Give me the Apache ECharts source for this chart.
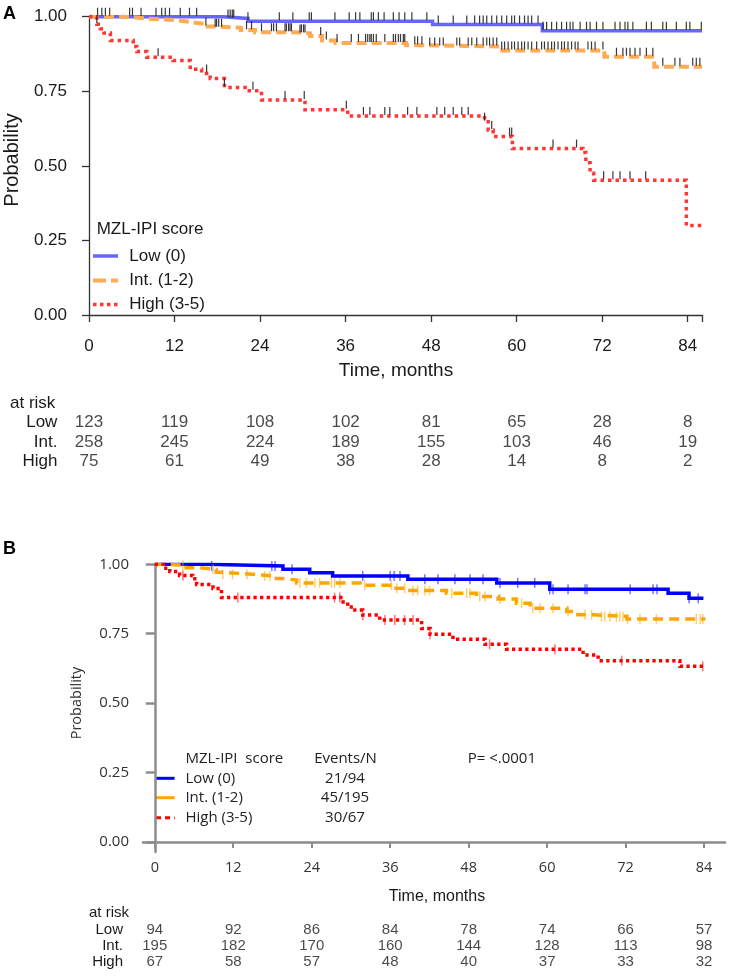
<!DOCTYPE html>
<html><head><meta charset="utf-8">
<script src="https://cdn.jsdelivr.net/npm/echarts@6/dist/echarts.min.js"></script>
<style>html,body{margin:0;padding:0;background:#fff}#c{width:738px;height:980px}</style>
</head><body><div id="c"></div>
<script>
// ---------- tick labels / categories ----------
const months = [0, 12, 24, 36, 48, 60, 72, 84];
const riskGroups = ['Low', 'Int.', 'High'];
const legendNames = ['Low (0)', 'Int. (1-2)', 'High (3-5)'];
const eventsN = ['21/94', '45/195', '30/67'];
const probTicks = [0, 0.25, 0.5, 0.75, 1];

// ---------- Panel A: Kaplan-Meier steps (time, survival) ----------
const aLowT = [0, 18.8, 22.3, 48.2, 63.6, 86];
const aLowS = [1, 0.994, 0.985, 0.974, 0.953, 0.953];
const aIntT = [0, 5, 6.5, 8, 12.3, 14, 15.8, 17.5, 21.3, 23.3, 29, 31, 32.7, 34.6, 44.5, 47.5, 57.6, 72.3, 79.3, 86];
const aIntS = [1, 0.997, 0.994, 0.988, 0.983, 0.977, 0.967, 0.963, 0.955, 0.948, 0.944, 0.935, 0.92, 0.912, 0.904, 0.9, 0.887, 0.866, 0.832, 0.832];
const aHighT = [0, 1.1, 1.6, 2.1, 3, 6.2, 6.7, 8.1, 11.8, 14.2, 15.8, 17, 19, 21.9, 24.2, 30.3, 36.3, 55.5, 56, 56.7, 59.4, 69.3, 69.7, 70.3, 70.8, 83.8, 86];
const aHighS = [1, 0.975, 0.96, 0.945, 0.92, 0.9, 0.883, 0.864, 0.853, 0.824, 0.81, 0.793, 0.763, 0.752, 0.721, 0.688, 0.667, 0.648, 0.62, 0.598, 0.558, 0.545, 0.51, 0.475, 0.452, 0.30, 0.30];
// censor times, panel A
const aLowC = [1.2, 1.8, 2.3, 2.9, 5.7, 6.1, 7.3, 9.4, 10.2, 10.7, 11.3, 12.8, 14.1, 15.1, 19.5, 19.8, 20.1, 20.3, 22.3, 26.7, 28.6, 30.9, 31.2, 34.5, 36.5, 37.4, 38.0, 39.6, 39.9, 40.6, 41.4, 42.7, 43.5, 44.3, 45.3, 47.4, 49.0, 51.1, 53.0, 54.1, 54.8, 55.3, 55.8, 56.5, 57.2, 57.9, 58.6, 59.3, 59.7, 60.4, 61.1, 61.6, 62.1, 63.0, 63.7, 64.2, 64.9, 65.6, 66.3, 67.0, 67.5, 67.9, 68.9, 69.8, 70.3, 71.2, 72.1, 73.8, 74.5, 75.2, 75.6, 76.3, 78.2, 78.9, 80.5, 81.0, 82.4, 83.8, 84.3, 85.9];
const aIntC = [16.4, 17.7, 17.9, 18.2, 18.6, 22.1, 22.8, 24.2, 25.6, 25.9, 26.3, 27.5, 27.7, 28.0, 28.2, 28.4, 29.6, 29.8, 30.1, 30.3, 32.5, 33.3, 34.8, 36.8, 37.8, 38.8, 39.1, 39.4, 39.6, 39.9, 40.3, 41.5, 42.7, 43.0, 43.4, 43.7, 44.1, 44.3, 45.7, 46.1, 46.7, 47.8, 48.5, 49.2, 49.7, 51.6, 52.0, 53.2, 53.7, 54.4, 55.3, 55.8, 56.2, 56.7, 57.2, 57.9, 58.3, 58.8, 59.3, 59.7, 60.2, 60.7, 61.1, 61.6, 62.1, 62.8, 63.5, 63.9, 64.4, 64.9, 65.3, 65.8, 66.3, 66.7, 67.2, 67.7, 68.2, 68.6, 70.0, 70.5, 71.0, 72.1, 74.0, 74.9, 75.4, 75.9, 76.6, 77.3, 78.2, 79.1, 80.5, 82.2, 82.9, 84.7, 85.2, 85.7];
const aHighC = [1.1, 9.7, 16.5, 19, 23, 27.5, 30.2, 36.1, 38.5, 39.4, 41.5, 42.2, 44.7, 46, 48.8, 49.9, 51.1, 52.3, 53.2, 55.5, 56.5, 59.0, 59.3, 65.1, 68.4, 72.2, 73.5, 74.5, 75.9, 78.1];
// at risk, panel A
const aRiskLow = [123, 119, 108, 102, 81, 65, 28, 8];
const aRiskInt = [258, 245, 224, 189, 155, 103, 46, 19];
const aRiskHigh = [75, 61, 49, 38, 28, 14, 8, 2];

// ---------- Panel B ----------
const bLowT = [0, 7.9, 19.6, 23.7, 27.2, 38.7, 52.3, 60.4, 78.5, 81.7, 83.9];
const bLowS = [1, 0.994, 0.982, 0.970, 0.958, 0.946, 0.933, 0.910, 0.896, 0.878, 0.878];
const bIntT = [0, 1.8, 4.8, 6.9, 9.4, 10.4, 15, 18, 19.6, 21.7, 31.4, 36.4, 38.5, 44.6, 49.2, 52.5, 55.3, 57.4, 63, 64.7, 67, 72.2, 84.2];
const bIntS = [1, 0.997, 0.988, 0.982, 0.971, 0.964, 0.958, 0.949, 0.943, 0.933, 0.925, 0.914, 0.906, 0.896, 0.884, 0.875, 0.86, 0.842, 0.83, 0.818, 0.812, 0.803, 0.803];
const bHighT = [0, 1.3, 2.3, 3.8, 5.8, 6.4, 8.9, 10.2, 28.8, 29.5, 30.3, 31.8, 34.4, 40.8, 42.1, 45.6, 50.5, 53.8, 65.5, 67.8, 80.3, 84.2];
const bHighS = [1, 0.986, 0.974, 0.96, 0.948, 0.927, 0.913, 0.88, 0.864, 0.846, 0.835, 0.817, 0.799, 0.769, 0.748, 0.73, 0.712, 0.694, 0.673, 0.653, 0.633, 0.633];
const bLowC = [8.7, 17.9, 18.4, 21.0, 31.8, 36.0, 36.6, 37.5, 41.3, 43.3, 45.9, 48.2, 50.2, 52.8, 55.5, 58.1, 60.4, 60.9, 63.2, 65.8, 66.1, 72.7, 76.2, 76.8, 81.7, 83.1];
const bIntC = [4.3, 8.9, 10.4, 11.9, 14.1, 16.8, 17.6, 22.2, 23.2, 24.5, 25.2, 27.0, 27.5, 28.3, 32.1, 36.2, 37.0, 38.2, 39.5, 40.2, 41.3, 42.0, 45.4, 47.7, 48.2, 49.7, 50.5, 52.8, 56.1, 57.8, 58.9, 60.9, 63.2, 65.8, 66.8, 68.3, 68.8, 69.6, 70.6, 71.1, 71.6, 72.3, 74.2, 76.7, 82.8, 83.4, 83.8];
const bHighC = [4.3, 12.7, 27.5, 28.3, 31.8, 35.2, 36.7, 38.2, 39.5, 42.1, 51.2, 61.2, 71.4, 83.8];
const bRiskLow = [94, 92, 86, 84, 78, 74, 66, 57];
const bRiskInt = [195, 182, 170, 160, 144, 128, 113, 98];
const bRiskHigh = [67, 58, 57, 48, 40, 37, 33, 32];

// ---------- helpers ----------
const FA = 'Liberation Sans, Arial, sans-serif';
const FB = 'Open Sans, DejaVu Sans, sans-serif';
function stepAt(ts, ss, t) { let s = ss[0]; for (let i = 0; i < ts.length; i++) { if (ts[i] <= t) s = ss[i]; } return s; }
function kmLine(ts, ss, ax, color, width, dash, z) {
  return { type: 'line', xAxisIndex: ax, yAxisIndex: ax, step: 'end', symbol: 'none', showSymbol: false, silent: true,
    data: ts.map((t, i) => [t, ss[i]]), lineStyle: { color: color, width: width, type: dash, cap: 'butt', join: 'miter' }, z: z };
}
function censors(ts, ss, cs, ax, color, size, offset, opacity, z) {
  return { type: 'scatter', xAxisIndex: ax, yAxisIndex: ax, symbol: 'rect', symbolSize: size, symbolOffset: offset, silent: true,
    itemStyle: { color: color, opacity: opacity }, data: cs.map(t => [t, stepAt(ts, ss, t)]), z: z };
}
function riskSeries(ax, rows, fontSize) {
  const data = [];
  rows.forEach((vals, g) => vals.forEach((v, i) => data.push([months[i], riskGroups[g], v])));
  return { type: 'scatter', xAxisIndex: ax, yAxisIndex: ax, symbolSize: 1, silent: true, itemStyle: { color: 'rgba(0,0,0,0)' },
    label: { show: true, position: 'inside', formatter: p => String(p.value[2]), fontSize: fontSize, fontFamily: FA, color: '#1a1a1a' }, data: data };
}
function txt(x, y, s, size, family, opts) {
  opts = opts || {};
  return { type: 'text', x: x, y: y, rotation: opts.rot || 0, silent: true,
    style: { text: s, fontSize: size, fontFamily: family, fontWeight: opts.weight || 'normal', fill: opts.color || '#1a1a1a',
      align: opts.align || 'left', verticalAlign: 'middle', textAlign: opts.align || 'left', textVerticalAlign: 'middle' } };
}
function seg(x1, y1, x2, y2, color, w, dash) {
  return { type: 'line', silent: true, shape: { x1: x1, y1: y1, x2: x2, y2: y2 }, style: { stroke: color, lineWidth: w, lineDash: dash || null, lineCap: 'butt' } };
}

const colA = ['#6666ff', '#ffaa55', '#ff3636'];
const colB = ['#0000ff', '#ffa500', '#ff0000'];
const dashA = ['solid', [10, 5], [3.5, 4]];
const dashB = ['solid', [10, 6], [3.3, 3.3]];

const option = {
  animation: false,
  backgroundColor: '#fff',
  grid: [
    { left: 89, top: 16.7, width: 613, height: 298.3 },
    { left: 143, top: 564.3, width: 582, height: 287.7 },
    { left: 89, top: 413, width: 613, height: 58.5 },
    { left: 143, top: 922, width: 582, height: 47.7 }
  ],
  xAxis: [
    { gridIndex: 0, type: 'value', min: 0, max: 86, offset: 13, splitLine: { show: false },
      axisLine: { show: true, lineStyle: { color: '#333', width: 1.3 } },
      axisTick: { show: true, length: 7, customValues: months.concat([86]), lineStyle: { color: '#333', width: 1.3 } },
      axisLabel: { customValues: months, fontSize: 17, fontFamily: FA, color: '#1a1a1a', margin: 10 } },
    { gridIndex: 1, type: 'value', min: -1.8, max: 87.2, splitLine: { show: false },
      axisLine: { show: true, lineStyle: { color: '#8c8c8c', width: 2.5 } },
      axisTick: { show: true, length: 6, customValues: months, lineStyle: { color: '#8c8c8c', width: 2 } },
      axisLabel: { customValues: months, fontSize: 14.5, fontFamily: FB, color: '#333', margin: 8 } },
    { gridIndex: 2, type: 'value', min: 0, max: 86, show: false },
    { gridIndex: 3, type: 'value', min: -1.8, max: 87.2, show: false }
  ],
  yAxis: [
    { gridIndex: 0, type: 'value', min: 0, max: 1, interval: 0.25, offset: 12, splitLine: { show: false },
      axisLine: { show: true, lineStyle: { color: '#333', width: 1.3 } },
      axisTick: { show: true, length: 7, lineStyle: { color: '#333', width: 1.3 } },
      axisLabel: { formatter: v => v.toFixed(2), fontSize: 17, fontFamily: FA, color: '#1a1a1a', margin: 10 } },
    { gridIndex: 1, type: 'value', min: -0.036, max: 1, splitLine: { show: false },
      axisLine: { show: true, lineStyle: { color: '#8c8c8c', width: 2.5 } },
      axisTick: { show: true, length: 9, customValues: probTicks, lineStyle: { color: '#8c8c8c', width: 2.5 } },
      axisLabel: { customValues: probTicks, formatter: v => v.toFixed(2), fontSize: 15, fontFamily: FB, color: '#333', margin: 14 } },
    { gridIndex: 2, type: 'category', inverse: true, data: riskGroups, axisLine: { show: false }, axisTick: { show: false }, splitLine: { show: false },
      axisLabel: { interval: 0, fontSize: 17, fontFamily: FA, color: '#1a1a1a', margin: 31.6 } },
    { gridIndex: 3, type: 'category', inverse: true, data: riskGroups, axisLine: { show: false }, axisTick: { show: false }, splitLine: { show: false },
      axisLabel: { interval: 0, fontSize: 15, fontFamily: FA, color: '#1a1a1a', margin: 20 } }
  ],
  series: [
    kmLine(aLowT, aLowS, 0, colA[0], 3.5, dashA[0], 2),
    kmLine(aIntT, aIntS, 0, colA[1], 4, dashA[1], 3),
    kmLine(aHighT, aHighS, 0, colA[2], 3.5, dashA[2], 4),
    censors(aLowT, aLowS, aLowC, 0, '#222', [1.2, 8], [0, -5], 0.9, 5),
    censors(aIntT, aIntS, aIntC, 0, '#222', [1.2, 8], [0, -5], 0.9, 5),
    censors(aHighT, aHighS, aHighC, 0, '#222', [1.2, 8], [0, -5], 0.9, 5),
    kmLine(bLowT, bLowS, 1, colB[0], 3.5, dashB[0], 2),
    kmLine(bIntT, bIntS, 1, colB[1], 3.5, dashB[1], 3),
    kmLine(bHighT, bHighS, 1, colB[2], 3.5, dashB[2], 4),
    censors(bLowT, bLowS, bLowC, 1, colB[0], [1.5, 10], [0, 0], 0.55, 5),
    censors(bIntT, bIntS, bIntC, 1, colB[1], [1.5, 10], [0, 0], 0.55, 5),
    censors(bHighT, bHighS, bHighC, 1, colB[2], [1.5, 10], [0, 0], 0.55, 5),
    riskSeries(2, [aRiskLow, aRiskInt, aRiskHigh], 17),
    riskSeries(3, [bRiskLow, bRiskInt, bRiskHigh], 15)
  ],
  graphic: [
    txt(3, 14, 'A', 18, FA, { weight: 'bold', color: '#000' }),
    txt(3, 549, 'B', 18, FA, { weight: 'bold', color: '#000' }),
    txt(12, 160, 'Probability', 20, FA, { align: 'center', rot: Math.PI / 2 }),
    txt(396, 371, 'Time, months', 19, FA, { align: 'center' }),
    txt(10, 403, 'at risk', 17, FA),
    txt(96.7, 229, 'MZL-IPI score', 17, FA),
    seg(93, 256, 118, 256, colA[0], 3.5),
    seg(93, 280.5, 118, 280.5, colA[1], 4, [13, 5, 7, 100]),
    seg(93, 304.5, 118, 304.5, colA[2], 3.5, [3.5, 3.5]),
    txt(129.3, 256, legendNames[0], 17, FA),
    txt(129.3, 280.5, legendNames[1], 17, FA),
    txt(129.3, 304.5, legendNames[2], 17, FA),
    // panel B texts
    txt(77, 703, 'Probability', 14.5, FB, { align: 'center', rot: Math.PI / 2, color: '#333' }),
    txt(437, 897, 'Time, months', 16, FA, { align: 'center' }),
    txt(89, 913, 'at risk', 15, FA),
    txt(185.4, 759, 'MZL-IPI  score', 15, FB, { color: '#222' }),
    txt(345.5, 759, 'Events/N', 15, FB, { align: 'center', color: '#222' }),
    txt(467.7, 759, 'P= <.0001', 15, FB, { color: '#222' }),
    seg(156, 778.3, 174.6, 778.3, colB[0], 3),
    seg(156, 797.7, 174.6, 797.7, colB[1], 3),
    seg(156, 817.7, 174.6, 817.7, colB[2], 3, [5, 4]),
    txt(185.4, 778.3, legendNames[0], 15, FB, { color: '#222' }),
    txt(185.4, 797.7, legendNames[1], 15, FB, { color: '#222' }),
    txt(185.4, 817.7, legendNames[2], 15, FB, { color: '#222' }),
    txt(345, 778.3, eventsN[0], 15, FB, { align: 'center', color: '#222' }),
    txt(345, 797.7, eventsN[1], 15, FB, { align: 'center', color: '#222' }),
    txt(345, 817.7, eventsN[2], 15, FB, { align: 'center', color: '#222' })
  ]
};
const chart = echarts.init(document.getElementById('c'));
chart.setOption(option);
</script>
</body></html>
